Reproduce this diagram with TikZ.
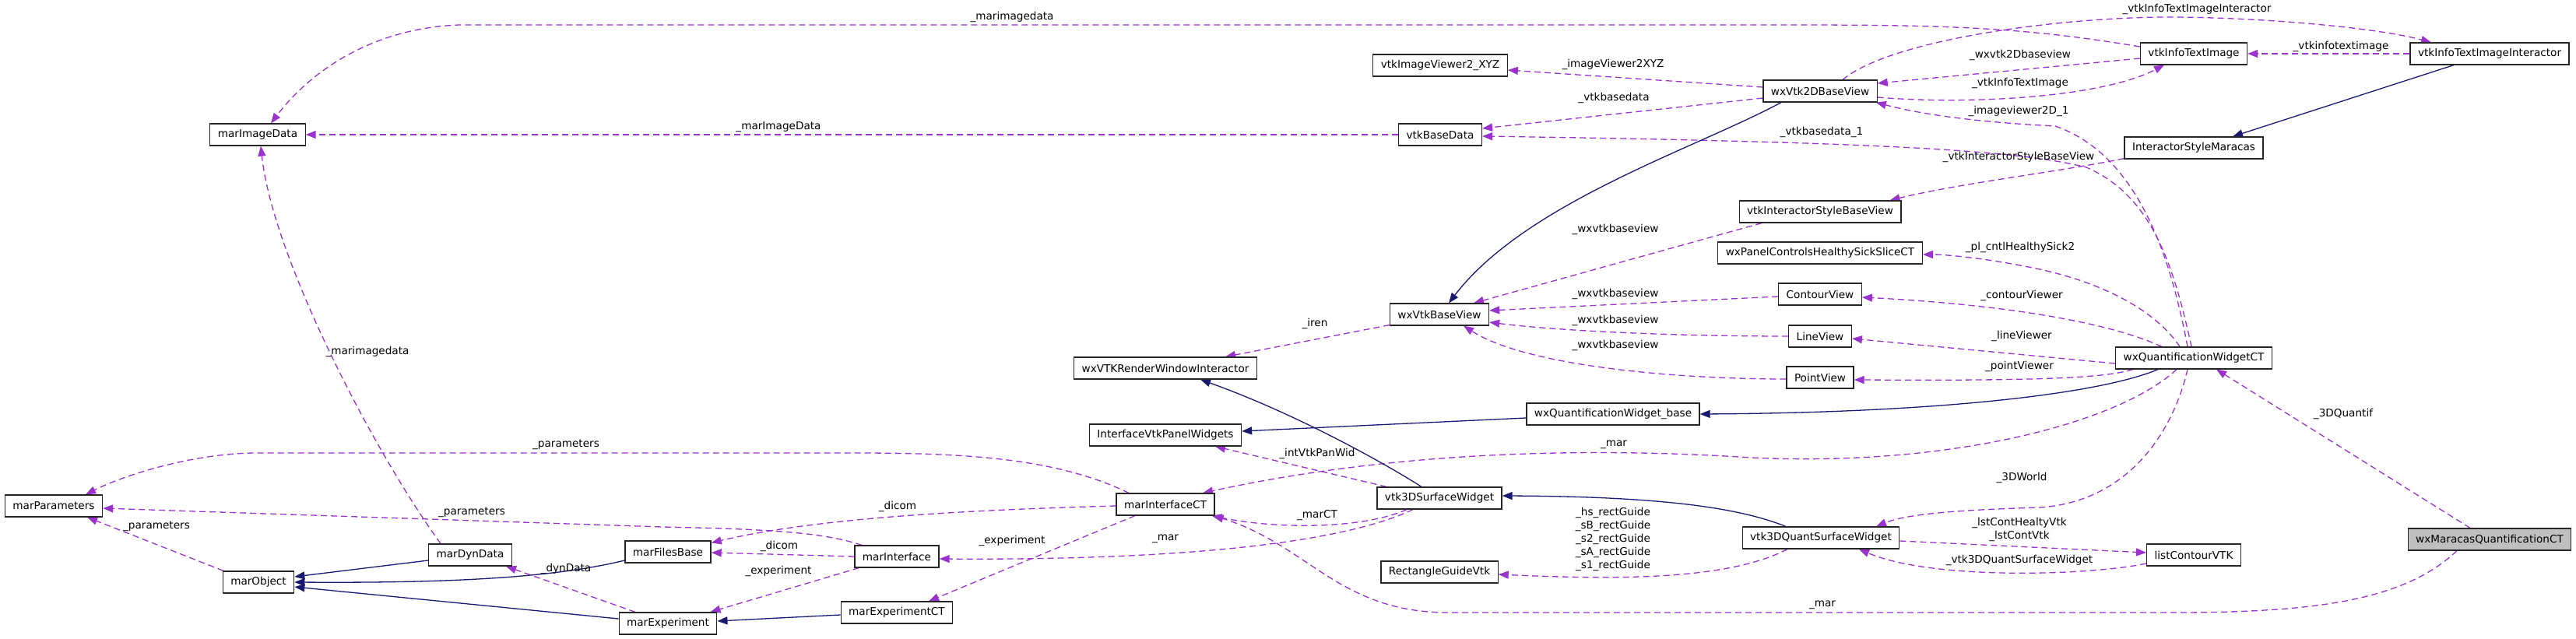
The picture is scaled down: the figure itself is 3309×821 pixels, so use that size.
\documentclass[tikz,border=0pt]{standalone}
\usepackage{fontspec}
\newfontfamily\dvs{DejaVu Sans}
\newcommand\lbfont{\dvs\fontsize{13.6pt}{17pt}\selectfont}
\usetikzlibrary{arrows.meta}
\definecolor{usecol}{HTML}{9A32CD}
\definecolor{inhcol}{HTML}{191970}
\pgfdeclarelayer{bg}
\pgfsetlayers{bg,main}
\tikzset{
 cls/.style={draw=black!85, line width=1.2pt, fill=white, font=\lbfont, minimum height=28pt, inner xsep=10pt, inner ysep=0pt},
 lbl/.style={font=\lbfont, inner sep=0pt, align=center},
 use/.style={draw=usecol, line width=1.3pt, dash pattern=on 8pt off 5pt, -{Triangle[length=13pt,width=10pt]}},
 inh/.style={draw=inhcol, line width=1.3pt, -{Triangle[length=13pt,width=10pt]}},
}
\begin{document}
\begin{tikzpicture}[x=1pt,y=-1pt]
\useasboundingbox (0,0) rectangle (3309,821);
% classes
\node[cls] (N1) at (331,173) {marImageData};
\node[cls] (N2) at (1850,84) {vtkImageViewer2\_XYZ};
\node[cls] (N3) at (1850,173) {vtkBaseData};
\node[cls] (N4) at (1849,404) {wxVtkBaseView};
\node[cls] (N5) at (1497,473) {wxVTKRenderWindowInteractor};
\node[cls] (N6) at (1497,559) {InterfaceVtkPanelWidgets};
\node[cls] (N7) at (1497,648) {marInterfaceCT};
\node[cls] (N8) at (1849,640) {vtk3DSurfaceWidget};
\node[cls] (N9) at (1152,715) {marInterface};
\node[cls] (N10) at (1152,787) {marExperimentCT};
\node[cls] (N11) at (1849,735) {RectangleGuideVtk};
\node[cls] (N12) at (69,650) {marParameters};
\node[cls] (N13) at (332,748) {marObject};
\node[cls] (N14) at (604,713) {marDynData};
\node[cls] (N15) at (858,709) {marFilesBase};
\node[cls] (N16) at (858,801) {marExperiment};
\node[cls] (N17) at (2338,117) {wxVtk2DBaseView};
\node[cls] (N18) at (2818,69) {vtkInfoTextImage};
\node[cls] (N19) at (3198,69) {vtkInfoTextImageInteractor};
\node[cls] (N20) at (2818,190) {InteractorStyleMaracas};
\node[cls] (N21) at (2338,272) {vtkInteractorStyleBaseView};
\node[cls] (N22) at (2338,325) {wxPanelControlsHealthySickSliceCT};
\node[cls] (N23) at (2338,378) {ContourView};
\node[cls] (N24) at (2338,432) {LineView};
\node[cls] (N25) at (2338,485) {PointView};
\node[cls] (N26) at (2818,460) {wxQuantificationWidgetCT};
\node[cls] (N27) at (2072,532) {wxQuantificationWidget\_base};
\node[cls] (N28) at (2339,691) {vtk3DQuantSurfaceWidget};
\node[cls] (N29) at (2818,713) {listContourVTK};
\node[cls,fill=black!25] (N30) at (3198,693) {wxMaracasQuantificationCT};
% labels
\node[lbl] (L1) at (1300,22) {\_marimagedata};
\node[lbl] (L2) at (1000,163) {\_marImageData};
\node[lbl] (L3) at (472,452) {\_marimagedata};
\node[lbl] (L4) at (2072,83) {\_imageViewer2XYZ};
\node[lbl] (L5) at (2073,126) {\_vtkbasedata};
\node[lbl] (L6) at (2340,170) {\_vtkbasedata\_1};
\node[lbl] (L7) at (2593,143) {\_imageviewer2D\_1};
\node[lbl] (L8) at (2593,202) {\_vtkInteractorStyleBaseView};
\node[lbl] (L9) at (2595,318) {\_pl\_cntlHealthySick2};
\node[lbl] (L10) at (2597,380) {\_contourViewer};
\node[lbl] (L11) at (2597,432) {\_lineViewer};
\node[lbl] (L12) at (2594,471) {\_pointViewer};
\node[lbl] (L13) at (2073,571) {\_mar};
\node[lbl] (L14) at (2597,614) {\_3DWorld};
\node[lbl] (L15) at (3010,532) {\_3DQuantif};
\node[lbl] (L16) at (2341,777) {\_mar};
\node[lbl] (L18) at (2072,693) {\_hs\_rectGuide\\\_sB\_rectGuide\\\_s2\_rectGuide\\\_sA\_rectGuide\\\_s1\_rectGuide};
\node[lbl] (L19) at (2594,680) {\_lstContHealtyVtk\\\_lstContVtk};
\node[lbl] (L20) at (2594,720) {\_vtk3DQuantSurfaceWidget};
\node[lbl] (L21) at (2595,71) {\_wxvtk2Dbaseview};
\node[lbl] (L22) at (2595,107) {\_vtkInfoTextImage};
\node[lbl] (L23) at (3007,60) {\_vtkinfotextimage};
\node[lbl] (L24) at (2822,12) {\_vtkInfoTextImageInteractor};
\node[lbl] (L27) at (2075,295) {\_wxvtkbaseview};
\node[lbl] (L28) at (2075,378) {\_wxvtkbaseview};
\node[lbl] (L29) at (2075,412) {\_wxvtkbaseview};
\node[lbl] (L30) at (2075,444) {\_wxvtkbaseview};
\node[lbl] (L31) at (1689,416) {\_iren};
\node[lbl] (L34) at (1692,583) {\_intVtkPanWid};
\node[lbl] (L35) at (1692,662) {\_marCT};
\node[lbl] (L36) at (1497,692) {\_mar};
\node[lbl] (L37) at (727,571) {\_parameters};
\node[lbl] (L38) at (1153,651) {\_dicom};
\node[lbl] (L39) at (606,658) {\_parameters};
\node[lbl] (L40) at (1001,702) {\_dicom};
\node[lbl] (L41) at (1000,734) {\_experiment};
\node[lbl] (L42) at (1300,695) {\_experiment};
\node[lbl] (L43) at (201,676) {\_parameters};
\node[lbl] (L44) at (727,731) {\_dynData};
% connectors
\begin{pgfonlayer}{bg}
\draw[use] ([yshift=9pt]N18.west) .. controls (2600,35) and (2500,32) .. (2300,32) -- (590,32) .. controls (480,36) and (400,90) .. ([xshift=17pt]N1.north);
\draw[use] (N3.west) -- (N1.east);
\draw[use] ([xshift=-38pt]N14.north) .. controls (480,580) and (350,330) .. ([xshift=4pt]N1.south);
\draw[use] ([yshift=5pt]N17.west) -- ([yshift=-6pt]N2.east);
\draw[use] ([yshift=-9pt]N17.west) -- ([yshift=8pt]N3.east);
\draw[use] ([xshift=-3pt]N26.north) .. controls (2790,330) and (2760,250) .. (2680,215) .. controls (2600,195) and (2450,183) .. ([yshift=-2pt]N3.east);
\draw[use] ([xshift=-8pt]N26.north) .. controls (2790,340) and (2750,200) .. (2640,162) .. controls (2560,158) and (2480,150) .. ([xshift=-2pt]N17.south east);
\draw[use] ([yshift=1pt]N20.south west) .. controls (2650,220) and (2520,235) .. ([xshift=-15pt]N21.north east);
\draw[use] ([xshift=-18pt]N26.north) .. controls (2770,400) and (2700,360) .. (2600,342) .. controls (2550,332) and (2500,327) .. ([yshift=-2pt]N22.east);
\draw[use] ([xshift=-41pt]N26.north) .. controls (2700,410) and (2550,390) .. ([yshift=-4pt]N23.east);
\draw[use] ([yshift=-7pt]N26.west) -- ([yshift=-3pt]N24.east);
\draw[use] ([xshift=-78pt]N26.south) .. controls (2700,487) and (2600,489) .. ([yshift=-3pt]N25.east);
\draw[inh] ([xshift=-46pt]N26.south) .. controls (2700,505) and (2500,530) .. (N27.east);
\draw[use] ([xshift=-22pt]N26.south) .. controls (2720,545) and (2500,600) .. (2250,588) .. controls (2050,575) and (1800,578) .. ([xshift=48pt]N7.north);
\draw[use] ([xshift=-8pt]N26.south) .. controls (2790,560) and (2730,645) .. (2620,652) .. controls (2520,655) and (2450,660) .. ([xshift=71pt]N28.north);
\draw[use] ([xshift=-25pt]N30.north) -- ([xshift=29pt]N26.south);
\draw[use] ([xshift=-42pt]N30.south) .. controls (3090,770) and (2980,787) .. (2793,787) -- (1860,787) .. controls (1720,787) and (1680,700) .. ([xshift=-2pt]N7.south east);
\draw[inh] ([xshift=-45pt]N28.north) .. controls (2240,655) and (2150,638) .. ([yshift=3pt]N8.east);
\draw[use] ([xshift=-43pt]N28.south) .. controls (2220,745) and (2080,745) .. ([yshift=-3pt]N11.east);
\draw[use] ([yshift=-4pt]N28.east) -- ([yshift=3pt]N29.west);
\draw[use] ([yshift=-11pt]N29.west) .. controls (2680,740) and (2480,745) .. ([xshift=49pt]N28.south);
\draw[use] ([yshift=-6pt]N18.west) -- ([yshift=10pt]N17.east);
\draw[use] ([yshift=-8pt]N17.east) .. controls (2530,135) and (2700,125) .. ([xshift=-38pt]N18.south);
\draw[use] (N19.west) -- (N18.east);
\draw[use] ([xshift=29pt]N17.north) .. controls (2430,50) and (2650,22) .. (2785,22) .. controls (2900,22) and (3050,35) .. ([xshift=-75pt]N19.north);
\draw[inh] ([xshift=-46pt]N19.south) -- ([xshift=50pt]N20.north);
\draw[inh] ([xshift=-50pt]N17.south) .. controls (2180,190) and (1960,260) .. ([xshift=12pt]N4.north);
\draw[use] ([xshift=-75pt]N21.south) -- ([xshift=44pt]N4.north);
\draw[use] ([yshift=-3pt]N23.west) -- ([yshift=5pt]N4.east);
\draw[use] (N24.west) .. controls (2150,432) and (2000,425) .. ([yshift=-10pt]N4.east);
\draw[use] ([yshift=-2pt]N25.west) .. controls (2150,487) and (1960,470) .. ([xshift=31pt]N4.south);
\draw[use] ([yshift=1pt]N4.south west) -- ([xshift=77pt]N5.north);
\draw[inh] ([xshift=-23pt]N8.north) .. controls (1770,590) and (1660,530) .. ([xshift=45pt]N5.south);
\draw[inh] ([yshift=-5pt]N27.west) -- ([yshift=5pt]N6.east);
\draw[use] ([xshift=-68pt]N8.north) -- ([xshift=64pt]N6.south);
\draw[use] ([xshift=-42pt]N8.south) .. controls (1750,680) and (1640,680) .. ([xshift=-4pt]N7.south east);
\draw[use] ([xshift=-34pt]N8.south) .. controls (1720,700) and (1500,720) .. ([yshift=-3pt]N9.east);
\draw[use] ([xshift=-47pt]N7.north) .. controls (1360,590) and (1250,582) .. (1100,582) -- (330,582) .. controls (250,582) and (160,610) .. ([xshift=41pt]N12.north);
\draw[use] ([yshift=-2pt]N7.west) .. controls (1250,655) and (1050,665) .. ([yshift=-3pt]N15.north east);
\draw[use] ([xshift=-45pt]N9.north) .. controls (1060,685) and (1000,680) .. (850,677) -- ([yshift=-3pt]N12.east);
\draw[use] (N9.west) -- ([yshift=-1pt]N15.east);
\draw[use] ([xshift=6pt]N9.south west) -- ([xshift=-9pt]N16.north east);
\draw[use] ([xshift=-39pt]N7.south) -- ([xshift=41pt]N10.north);
\draw[use] ([xshift=-45pt]N13.north) -- ([xshift=43pt]N12.south);
\draw[use] ([xshift=-42pt]N16.north) -- ([xshift=46pt]N14.south);
\draw[inh] ([yshift=-7pt]N14.west) -- ([yshift=7pt]N13.east);
\draw[inh] ([yshift=-11pt]N15.west) .. controls (700,745) and (550,749) .. (N13.east);
\draw[inh] ([yshift=6pt]N16.west) -- ([yshift=-6pt]N13.east);
\draw[inh] ([yshift=-3pt]N10.west) -- ([yshift=3pt]N16.east);
\end{pgfonlayer}
\end{tikzpicture}
\end{document}
